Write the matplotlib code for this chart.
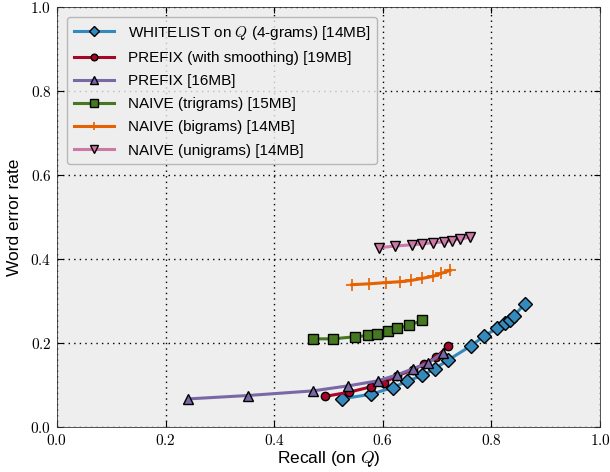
import matplotlib
matplotlib.use("Agg")
import matplotlib.pyplot as plt
from matplotlib.ticker import FuncFormatter

plt.rcParams['mathtext.fontset'] = 'cm'
plt.rcParams['font.family'] = ['Liberation Sans', 'DejaVu Sans']

whitelist_x = [0.524, 0.578, 0.618, 0.645, 0.673, 0.696, 0.721, 0.762, 0.787, 0.810, 0.825, 0.834, 0.842, 0.861]
whitelist_y = [0.067, 0.078, 0.094, 0.109, 0.123, 0.139, 0.160, 0.193, 0.217, 0.235, 0.247, 0.255, 0.265, 0.293]

prefix_s_x = [0.494, 0.538, 0.579, 0.603, 0.626, 0.656, 0.676, 0.698, 0.721]
prefix_s_y = [0.073, 0.083, 0.096, 0.106, 0.122, 0.136, 0.150, 0.166, 0.194]

prefix_x = [0.242, 0.351, 0.471, 0.536, 0.591, 0.626, 0.656, 0.684, 0.711]
prefix_y = [0.067, 0.075, 0.086, 0.098, 0.110, 0.124, 0.139, 0.153, 0.177]

tri_x = [0.471, 0.509, 0.549, 0.573, 0.589, 0.609, 0.627, 0.648, 0.673]
tri_y = [0.210, 0.210, 0.215, 0.218, 0.222, 0.229, 0.235, 0.242, 0.254]

bi_x = [0.543, 0.575, 0.606, 0.632, 0.652, 0.673, 0.693, 0.708, 0.724]
bi_y = [0.339, 0.341, 0.344, 0.346, 0.349, 0.354, 0.359, 0.366, 0.373]

uni_x = [0.593, 0.623, 0.654, 0.673, 0.692, 0.713, 0.727, 0.743, 0.761]
uni_y = [0.427, 0.431, 0.434, 0.436, 0.439, 0.441, 0.444, 0.448, 0.452]

labels = [
    "WHITELIST on $Q$ (4-grams) [14MB]",
    "PREFIX (with smoothing) [19MB]",
    "PREFIX [16MB]",
    "NAIVE (trigrams) [15MB]",
    "NAIVE (bigrams) [14MB]",
    "NAIVE (unigrams) [14MB]",
]
ticks = [0.0, 0.2, 0.4, 0.6, 0.8, 1.0]

series = [
    (whitelist_x, whitelist_y, '#348ABD', 'D', 7),
    (prefix_s_x, prefix_s_y, '#A60628', 'o', 6),
    (prefix_x, prefix_y, '#7A68A6', '^', 7),
    (tri_x, tri_y, '#467821', 's', 7),
    (bi_x, bi_y, '#E66101', '+', 8),
    (uni_x, uni_y, '#CC79A7', 'v', 7),
]

fig = plt.figure(figsize=(6.1, 4.72), dpi=100)
ax = fig.add_axes([0.0934, 0.0953, 0.8902, 0.8897])
ax.set_facecolor('#EEEEEE')

for (xs, ys, c, m, ms), lab in zip(series, labels):
    if m == '+':
        ax.plot(xs, ys, color=c, marker=m, markersize=ms, lw=2.2,
                markeredgecolor=c, markeredgewidth=1.2, label=lab)
    else:
        ax.plot(xs, ys, color=c, marker=m, markersize=ms, lw=2.2,
                markeredgecolor='black', markeredgewidth=1.0, label=lab)

ax.set_xlim(0, 1)
ax.set_ylim(0, 1)
ax.set_xticks(ticks)
ax.set_yticks(ticks)
fmt = FuncFormatter(lambda v, p: r'$%.1f$' % v)
ax.xaxis.set_major_formatter(fmt)
ax.yaxis.set_major_formatter(fmt)
ax.tick_params(direction='in', top=True, right=True, labelsize=11, length=4, width=0.8, pad=4)
ax.grid(True, linestyle=(0, (1, 3)), color='black', linewidth=1.0)
ax.set_axisbelow(True)
for s in ax.spines.values():
    s.set_color('#333333')
    s.set_linewidth(0.6)

ax.set_xlabel("Recall (on $Q$)", fontsize=12.5, labelpad=1)
ax.set_ylabel("Word error rate", fontsize=12.5, labelpad=6)

leg = ax.legend(loc='upper left', fontsize=11, frameon=True, fancybox=True,
                numpoints=1, markerscale=0.8,
                handlelength=2.6, handletextpad=0.9, labelspacing=0.6,
                borderpad=0.45, bbox_to_anchor=(0.005, 0.995))
leg.get_frame().set_facecolor('#EEEEEE')
leg.get_frame().set_edgecolor('#AAAAAA')

fig.savefig("out.png", dpi=100)
